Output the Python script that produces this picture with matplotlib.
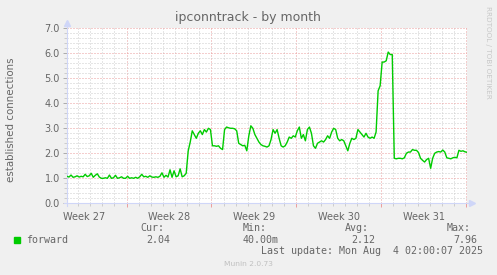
import numpy as np
import matplotlib
matplotlib.use("Agg")
import matplotlib.pyplot as plt
import matplotlib.patches as mpatches
from matplotlib.ticker import FixedLocator, MultipleLocator

W, H = 497, 275

# time axis in days counted from Mon 30 Jun 2025 00:00 (start of week 27)
end_day = 35 + 2 / 24        # Mon Aug 4 02:00
span_days = 33               # munin "by month" window
sample_hours = 4

# established connections, one value every 4 hours, oldest first
forward = [
    1.05, 1.08, 1.05, 1.13, 1.04, 1.06, 1.10, 1.05, 1.08, 1.06,
    1.16, 1.07, 1.10, 1.20, 1.04, 1.12, 1.18, 1.05, 1.00, 1.00,
    1.02, 1.00, 1.13, 1.00, 1.02, 1.12, 1.00, 1.02, 1.06, 1.00,
    1.00, 1.08, 1.00, 1.02, 1.00, 1.04, 1.00, 1.06, 1.16, 1.06,
    1.08, 1.04, 1.10, 1.05, 1.04, 1.06, 1.04, 1.08, 1.22, 1.04,
    1.12, 1.05, 1.34, 1.04, 1.30, 1.06, 1.10, 1.38, 1.06, 1.10,
    1.20, 2.10, 2.45, 2.90, 2.75, 2.60, 2.80, 2.90, 2.75, 2.95,
    2.85, 3.00, 2.95, 2.30, 2.30, 2.28, 2.30, 2.20, 2.15, 2.95,
    3.05, 3.02, 3.00, 3.00, 2.98, 2.90, 2.40, 2.35, 2.30, 2.32,
    2.10, 2.70, 3.10, 3.00, 2.75, 2.60, 2.45, 2.35, 2.30, 2.28,
    2.25, 2.30, 2.55, 2.95, 2.80, 2.95, 2.60, 2.30, 2.25, 2.30,
    2.45, 2.65, 2.60, 2.70, 2.65, 2.90, 3.05, 2.60, 2.75, 2.50,
    2.95, 3.05, 2.80, 2.30, 2.20, 2.40, 2.45, 2.50, 2.45, 2.55,
    2.70, 2.60, 2.85, 3.00, 2.95, 2.60, 2.50, 2.55, 2.50, 2.30,
    2.10, 2.40, 2.60, 2.55, 2.60, 2.95, 2.85, 2.75, 2.65, 2.80,
    2.65, 2.60, 2.65, 2.60, 2.85, 4.50, 4.70, 5.65, 5.65, 5.70,
    6.05, 5.95, 5.95, 1.80, 1.78, 1.80, 1.80, 1.78, 1.82, 2.00,
    2.05, 2.05, 2.15, 2.12, 2.12, 2.03, 1.80, 1.72, 1.65, 1.75,
    1.80, 1.40, 1.80, 2.00, 2.05, 2.07, 2.05, 2.13, 2.05, 1.82,
    1.80, 1.78, 1.82, 1.84, 1.82, 2.12, 2.08, 2.10, 2.06, 2.04,
]

week_starts = [0, 7, 14, 21, 28, 35]
week_labels = ["Week 27", "Week 28", "Week 29", "Week 30", "Week 31"]
y_ticks = [0, 1, 2, 3, 4, 5, 6, 7]

stat_names = ["Cur:", "Min:", "Avg:", "Max:"]
stat_values = ["2.04", "40.00m", "2.12", "7.96"]
series_name = "forward"
last_update = "Last update: Mon Aug  4 02:00:07 2025"

# munin / rrdtool colours
BACK = "#F0F0F0"
FONT = "#666666"
AXIS = "#CFD6F8"
GRID = "#CDCDCD"
MGRID = "#EB9C9C"
LINE = "#00CC00"


def px(x, y):
    """pixel position -> figure fraction"""
    return x / W, 1 - y / H


n = len(forward)
t = end_day - (n - 1 - np.arange(n)) * sample_hours / 24

fig = plt.figure(figsize=(W / 100, H / 100), dpi=100, facecolor=BACK)
left, top, right, bottom = 67, 28.3, 467, 203.3
ax = fig.add_axes([left / W, 1 - bottom / H, (right - left) / W, (bottom - top) / H])
ax.set_facecolor("white")

ax.plot(t, forward, color=LINE, lw=1.0, zorder=3)

ax.set_xlim(end_day - span_days, end_day)
ax.set_ylim(0, 7)

# grid
ax.xaxis.set_major_locator(FixedLocator(week_starts))
ax.xaxis.set_minor_locator(MultipleLocator(1))
ax.yaxis.set_major_locator(FixedLocator(y_ticks))
ax.yaxis.set_minor_locator(MultipleLocator(0.2))
ax.grid(which="minor", color=GRID, lw=0.72, ls=(0, (1, 2)), zorder=1)
ax.grid(which="major", color=MGRID, lw=0.72, ls=(0, (1, 2)), zorder=2)

ax.set_yticklabels([f"{v:.1f}" for v in y_ticks])
ax.set_xticklabels([])
ax.tick_params(axis="y", which="major", length=3, width=0.7, color="#AAAAAA",
               labelsize=7, labelcolor=FONT, pad=2)
ax.tick_params(axis="y", which="minor", length=2, width=0.7, color="#CCCCCC")
ax.tick_params(axis="x", which="major", length=3, width=0.7, color=MGRID)
ax.tick_params(axis="x", which="minor", length=2, width=0.7, color="#CCCCCC")

for w0, lab in zip(week_starts, week_labels):
    ax.text(w0 + 3.5, -0.05, lab, transform=ax.get_xaxis_transform(),
            ha="center", va="top", fontsize=7, color=FONT)

for s in ("top", "right"):
    ax.spines[s].set_visible(False)
for s in ("left", "bottom"):
    ax.spines[s].set_color(AXIS)
    ax.spines[s].set_linewidth(0.8)
ax.spines["bottom"].set_bounds(end_day - span_days - 0.25, end_day + 0.3)
ax.spines["left"].set_bounds(-0.1, 7.25)
ax.plot([1.012], [0], marker=">", ms=4, color=AXIS, mec=AXIS,
        transform=ax.transAxes, clip_on=False)
ax.plot([0], [1.03], marker="^", ms=4, color=AXIS, mec=AXIS,
        transform=ax.transAxes, clip_on=False)

# texts around the canvas
fig.text(*px(248, 18), "ipconntrack - by month", ha="center", va="center",
         fontsize=9, color=FONT)
fig.text(*px(11, 120), "established connections", rotation=90,
         ha="center", va="center", fontsize=7.4, color=FONT)
fig.text(*px(488, 52), "RRDTOOL / TOBI OETIKER", rotation=270,
         ha="center", va="center", fontsize=5.2, color="#C8C8C8")

mono = dict(family="DejaVu Sans Mono", fontsize=7.2, color=FONT, va="center")
fig.patches.append(mpatches.Rectangle(px(14, 243), 6 / W, 6 / H, color=LINE,
                                      transform=fig.transFigure))
fig.text(*px(26, 240), series_name, ha="left", **mono)
name_x = [140, 243, 345, 447]
value_x = [170, 279, 375, 477]
for nx, vx, nm, val in zip(name_x, value_x, stat_names, stat_values):
    fig.text(*px(nx, 228), nm, ha="left", **mono)
    fig.text(*px(vx, 240), val, ha="right", **mono)
fig.text(*px(483, 251), last_update, ha="right", **mono)
fig.text(*px(248, 264), "Munin 2.0.73", ha="center", va="center",
         fontsize=5.4, color="#C0C0C0")

fig.savefig("out.png", dpi=100, facecolor=BACK)
